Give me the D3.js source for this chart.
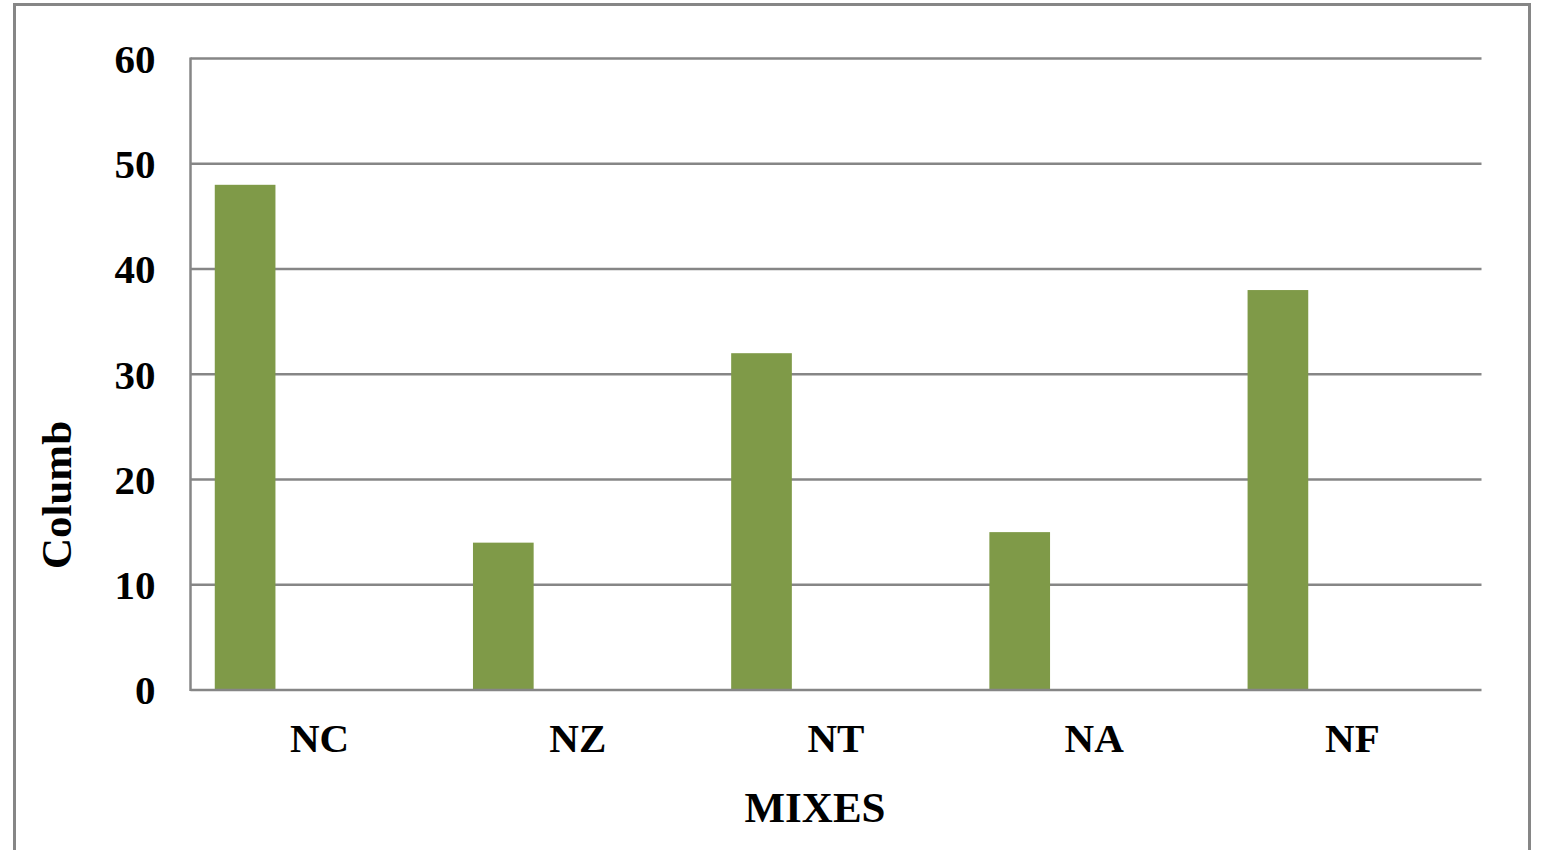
<!DOCTYPE html>
<html>
<head>
<meta charset="utf-8">
<script src="https://cdn.jsdelivr.net/npm/d3@7"></script>
<style>
html,body{margin:0;padding:0;background:#fff;}
svg{display:block;}
text{font-family:"Liberation Serif","Times New Roman",serif;font-weight:bold;fill:#000;}
</style>
</head>
<body>
<svg id="chart" width="1548" height="850"></svg>
<script>
const categories = ["NC", "NZ", "NT", "NA", "NF"];
const values = [48, 14, 32, 15, 38];
const yTicks = [0, 10, 20, 30, 40, 50, 60];
const xTitle = "MIXES";
const yTitle = "Columb";

const svg = d3.select("#chart");
const plot = {left: 190.5, right: 1481.5, top: 58.5, bottom: 690};

// outer frame
svg.append("rect")
  .attr("x", 14.5).attr("y", 4.5)
  .attr("width", 1515).attr("height", 860)
  .attr("fill", "none").attr("stroke", "#868686").attr("stroke-width", 3);

const x = d3.scaleBand().domain(categories).range([plot.left, plot.right]).padding(0);
const y = d3.scaleLinear().domain([0, 60]).range([plot.bottom, plot.top]);

// gridlines
svg.append("g").selectAll("line").data(yTicks.filter(d => d > 0)).join("line")
  .attr("x1", plot.left).attr("x2", plot.right)
  .attr("y1", d => y(d)).attr("y2", d => y(d))
  .attr("stroke", "#868686").attr("stroke-width", 2.5);

// bars
const bw = x.bandwidth();
svg.append("g").selectAll("rect").data(categories).join("rect")
  .attr("x", (c) => x(c) + bw * 0.094)
  .attr("width", bw * 0.235)
  .attr("y", (c, i) => y(values[i]))
  .attr("height", (c, i) => y(0) - y(values[i]))
  .attr("fill", "#7f9a48");

// axes lines
svg.append("line")
  .attr("x1", plot.left).attr("x2", plot.left)
  .attr("y1", plot.top - 1).attr("y2", plot.bottom + 1)
  .attr("stroke", "#868686").attr("stroke-width", 2.5);
svg.append("line")
  .attr("x1", plot.left).attr("x2", plot.right)
  .attr("y1", plot.bottom).attr("y2", plot.bottom)
  .attr("stroke", "#868686").attr("stroke-width", 2.5);

// y tick labels
const yAxis = d3.axisLeft(y).tickValues(yTicks).tickSize(0).tickPadding(35);
const gy = svg.append("g").attr("transform", `translate(${plot.left},0)`).call(yAxis);
gy.select(".domain").remove();
gy.selectAll("text")
  .style("font-family", '"Liberation Serif","Times New Roman",serif')
  .style("font-weight", "bold").style("font-size", "41px").attr("fill", "#000")
  .attr("dy", "0.34em");

// x tick labels
const xAxis = d3.axisBottom(x).tickSize(0).tickPadding(0);
const gx = svg.append("g").attr("transform", `translate(0,${plot.bottom})`).call(xAxis);
gx.select(".domain").remove();
gx.selectAll("text")
  .style("font-family", '"Liberation Serif","Times New Roman",serif')
  .style("font-weight", "bold").style("font-size", "41px").attr("fill", "#000")
  .attr("y", 62).attr("dy", 0);

// axis titles
svg.append("text").attr("x", 815).attr("y", 822)
  .attr("text-anchor", "middle").style("font-size", "43px").text(xTitle);
svg.append("text")
  .attr("transform", "translate(71,495) rotate(-90)")
  .attr("text-anchor", "middle").style("font-size", "43px").text(yTitle);
</script>
</body>
</html>
